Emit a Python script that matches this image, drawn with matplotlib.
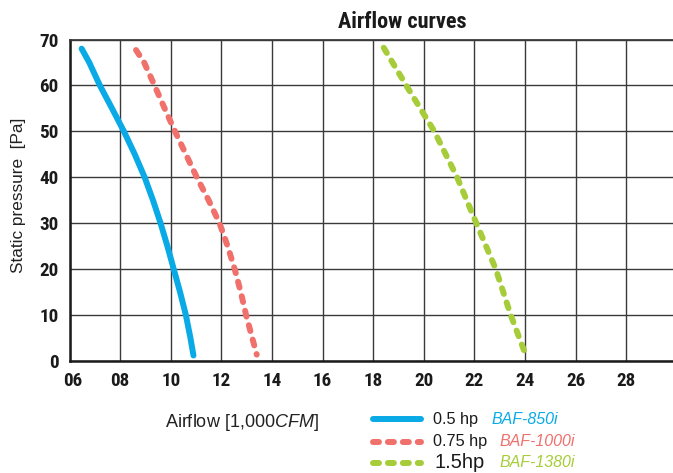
import matplotlib
matplotlib.use("Agg")
import os
import matplotlib.pyplot as plt
import matplotlib.transforms as mtransforms
from matplotlib.lines import Line2D
from matplotlib import font_manager
from matplotlib.font_manager import FontProperties

# ---- data ----
x_ticks = [6, 8, 10, 12, 14, 16, 18, 20, 22, 24, 26, 28]
x_tick_labels = ["06", "08", "10", "12", "14", "16", "18", "20", "22", "24", "26", "28"]
y_ticks = [0, 10, 20, 30, 40, 50, 60, 70]

blue_x = [6.48, 6.78, 7.20, 7.68, 8.15, 8.58, 8.97, 9.30, 9.60, 9.87, 10.12, 10.37, 10.60, 10.78, 10.90]
blue_y = [68.0, 65.0, 60.0, 55.0, 50.0, 45.0, 40.0, 35.0, 30.0, 25.0, 20.0, 15.0, 10.0, 5.0, 1.2]

red_x = [8.63, 8.95, 9.36, 9.76, 10.17, 10.60, 11.03, 11.50, 11.93, 12.25, 12.53, 12.77, 12.98, 13.40]
red_y = [67.7, 65.0, 60.0, 55.0, 50.0, 45.0, 40.0, 35.0, 30.0, 25.0, 20.0, 15.0, 10.0, 1.4]

green_x = [18.42, 19.31, 20.42, 21.32, 22.08, 22.85, 23.44, 24.02]
green_y = [68.2, 60.0, 50.0, 40.0, 30.0, 20.0, 10.0, 1.5]

series_hp = ["0.5 hp", "0.75 hp", "1.5hp"]
series_model = ["BAF-850i", "BAF-1000i", "BAF-1380i"]

# ---- fonts ----
ttfs = font_manager.fontManager.ttflist
names = {f.name for f in ttfs}
REG = "Liberation Sans" if "Liberation Sans" in names else "DejaVu Sans"


def pick_bold_narrow():
    prefs = ["LiberationSansNarrow-Bold", "RobotoCondensed-Bold", "DejaVuSansCondensed-Bold",
             "OpenSans_Condensed-Bold", "OpenSansCondensed-Bold", "NotoSans-CondensedBold",
             "Roboto_Condensed-Bold"]
    files = [f.fname for f in ttfs]
    for p in prefs:
        for fn in files:
            if os.path.basename(fn).startswith(p):
                return fn
    for fn in files:
        b = os.path.basename(fn)
        if ("Condensed" in b or "Narrow" in b) and "Bold" in b and "Italic" not in b and "Oblique" not in b:
            return fn
    return None


NARROW_FILE = pick_bold_narrow()


def bold_fp(size):
    if NARROW_FILE:
        return FontProperties(fname=NARROW_FILE, size=size)
    return FontProperties(family="Roboto", weight="bold", size=size * 0.85)


plt.rcParams["mathtext.fontset"] = "custom"
plt.rcParams["mathtext.rm"] = REG
plt.rcParams["mathtext.it"] = REG + ":italic"

BLUE = "#0AAAE6"
RED = "#F0706C"
GREEN = "#A6CD39"
GRID = "#3a3a3a"

W, H = 673, 473
fig = plt.figure(figsize=(W / 100, H / 100), dpi=100)
left_px, right_px, top_px, bot_px = 69.5, 673, 39.5, 361.0
ax = fig.add_axes([left_px / W, 1 - bot_px / H, (right_px - left_px) / W, (bot_px - top_px) / H])

ax.set_xlim(6, 6 + (right_px - left_px) / 25.3)
ax.set_ylim(0, 70)
ax.set_xticks(x_ticks)
ax.set_xticklabels(x_tick_labels)
ax.set_yticks(y_ticks)
ax.tick_params(length=0, pad=8)
for lab in ax.get_xticklabels() + ax.get_yticklabels():
    lab.set_fontproperties(bold_fp(13.8))
    lab.set_color("#1a1a1a")
# first x label sits slightly right of the spine in the reference
first = ax.get_xticklabels()[0]
first.set_transform(first.get_transform() + mtransforms.ScaledTranslation(3 / 100, 0, fig.dpi_scale_trans))

ax.grid(True, color=GRID, linewidth=1.0)
ax.set_axisbelow(True)
ax.spines["right"].set_visible(False)
ax.spines["top"].set_color(GRID)
ax.spines["top"].set_linewidth(1.3)
for s in ("left", "bottom"):
    ax.spines[s].set_color("#1a1a1a")
    ax.spines[s].set_linewidth(1.8)

lw = 4.3
dash = (1.0, 1.5)
l1, = ax.plot(blue_x, blue_y, color=BLUE, lw=lw, solid_capstyle="round", solid_joinstyle="round")
l2, = ax.plot(red_x, red_y, color=RED, lw=lw, dashes=dash, dash_capstyle="round")
l3, = ax.plot(green_x, green_y, color=GREEN, lw=lw, dashes=dash, dash_capstyle="round")

# title
fig.text(402 / W, 1 - 28.3 / H, "Airflow curves", fontproperties=bold_fp(16),
         ha="center", va="baseline", color="#1a1a1a")

# axis labels
fig.text(18.5 / W, 1 - 195 / H, "Static pressure  [Pa]", fontfamily=REG, fontsize=12.4,
         rotation=90, ha="center", va="center", color="#222222")
fig.text(241.5 / W, 1 - 426.7 / H, "Airflow [1,000$\\mathit{CFM}$]", fontfamily=REG, fontsize=13,
         ha="center", va="baseline", color="#222222")

# legend
rows_y = [419, 441.5, 462.5]
colors = [BLUE, RED, GREEN]
styles = [None, dash, dash]
hp_x = [432.7, 432.7, 435]
hp_size = [11.7, 11.7, 14.5]
model_x = [491.7, 499, 499]
for i in range(3):
    yf = 1 - rows_y[i] / H
    ln = Line2D([372.7 / W, 420.7 / W], [yf, yf], transform=fig.transFigure,
                color=colors[i], lw=lw, solid_capstyle="round", dash_capstyle="round")
    if styles[i] is not None:
        ln.set_dashes(styles[i])
    fig.add_artist(ln)
    fig.text(hp_x[i] / W, yf, series_hp[i], fontfamily=REG, fontsize=hp_size[i],
             ha="left", va="center", color="#1a1a1a")
    fig.text(model_x[i] / W, yf, series_model[i], fontfamily=REG, fontstyle="italic",
             fontsize=11.5, ha="left", va="center", color=colors[i])

fig.savefig("out.png", dpi=100)
